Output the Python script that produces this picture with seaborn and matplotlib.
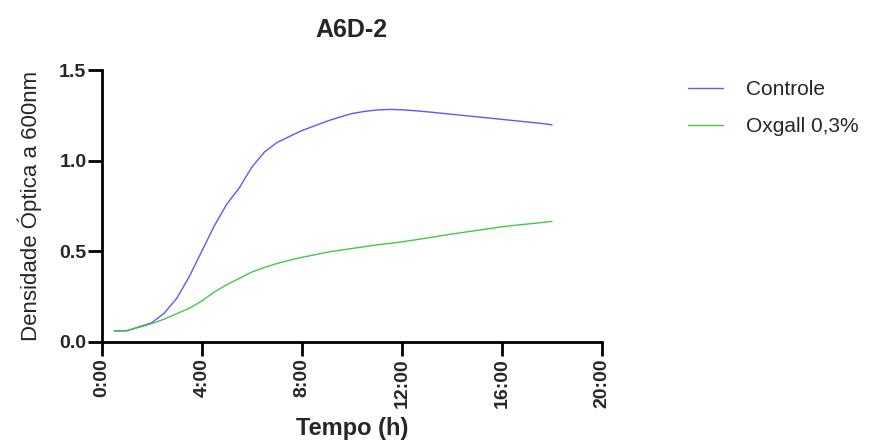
import pandas as pd
import numpy as np
import matplotlib.pyplot as plt
import seaborn as sns

# growth curve data (hours, OD600)
hours = [0.5, 1.0, 1.5, 2.0, 2.5, 3.0, 3.5, 4.0, 4.5, 5.0, 5.5, 6.0, 6.5, 7.0, 7.5, 8.0, 8.5, 9.0,
         9.5, 10.0, 10.5, 11.0, 11.5, 12.0, 12.5, 13.0, 13.5, 14.0, 14.5, 15.0, 15.5, 16.0, 16.5, 17.0, 17.5, 18.0]
controle = [0.060, 0.060, 0.083, 0.105, 0.158, 0.240, 0.360, 0.500, 0.640, 0.760, 0.850, 0.964, 1.047, 1.100,
            1.133, 1.166, 1.192, 1.218, 1.240, 1.260, 1.272, 1.280, 1.283, 1.281, 1.276, 1.270, 1.263, 1.256,
            1.249, 1.242, 1.235, 1.228, 1.221, 1.214, 1.207, 1.198]
oxgall = [0.060, 0.062, 0.080, 0.100, 0.125, 0.155, 0.185, 0.225, 0.275, 0.315, 0.350, 0.385, 0.410, 0.432,
          0.450, 0.466, 0.480, 0.494, 0.505, 0.515, 0.525, 0.535, 0.543, 0.552, 0.562, 0.573, 0.584, 0.595,
          0.605, 0.615, 0.625, 0.635, 0.643, 0.650, 0.657, 0.665]
series_names = ['Controle', 'Oxgall 0,3%']
colors = ['#5a5aff', '#44c844']

df = pd.DataFrame({'Tempo': hours * 2,
                   'OD': controle + oxgall,
                   'Grupo': [series_names[0]] * len(hours) + [series_names[1]] * len(hours)})

sns.set_style('white')
plt.rcParams['font.family'] = ['Liberation Sans', 'DejaVu Sans']

fig = plt.figure(figsize=(8.92, 4.41), dpi=100)
ax = fig.add_axes([0.114, 0.225, 0.561, 0.616])
sns.lineplot(data=df, x='Tempo', y='OD', hue='Grupo', palette=colors, linewidth=1, ax=ax, legend=False)

ax.set_xlim(0, 20)
ax.set_ylim(0, 1.5)
ax.set_xticks([0, 4, 8, 12, 16, 20])
ax.set_xticklabels(['0:00', '4:00', '8:00', '12:00', '16:00', '20:00'], rotation=90, fontweight='bold', fontsize=14)
ax.set_yticks([0, 0.5, 1.0, 1.5])
ax.set_yticklabels(['0.0', '0.5', '1.0', '1.5'], fontweight='bold', fontsize=14)
ax.tick_params(axis='both', direction='out', length=10, width=2, color='black', bottom=True, left=True, pad=2)
ax.tick_params(axis='y', pad=1)
for side in ['top', 'right']:
    ax.spines[side].set_visible(False)
for side in ['left', 'bottom']:
    ax.spines[side].set_linewidth(2)
    ax.spines[side].set_color('black')

ax.set_xlabel('Tempo (h)', fontsize=17, fontweight='bold', labelpad=6)
ax.set_ylabel('Densidade Óptica a 600nm', fontsize=16, labelpad=12)
ax.set_title('A6D-2', fontsize=18, fontweight='bold', pad=24)

handles = [plt.Line2D([], [], color=c, linewidth=1) for c in colors]
fig.legend(handles, series_names, loc='upper left', bbox_to_anchor=(0.75, 0.86), frameon=False,
           fontsize=15, handlelength=1.7, handletextpad=1.1, labelspacing=0.85)

fig.savefig('out.png', dpi=100)
